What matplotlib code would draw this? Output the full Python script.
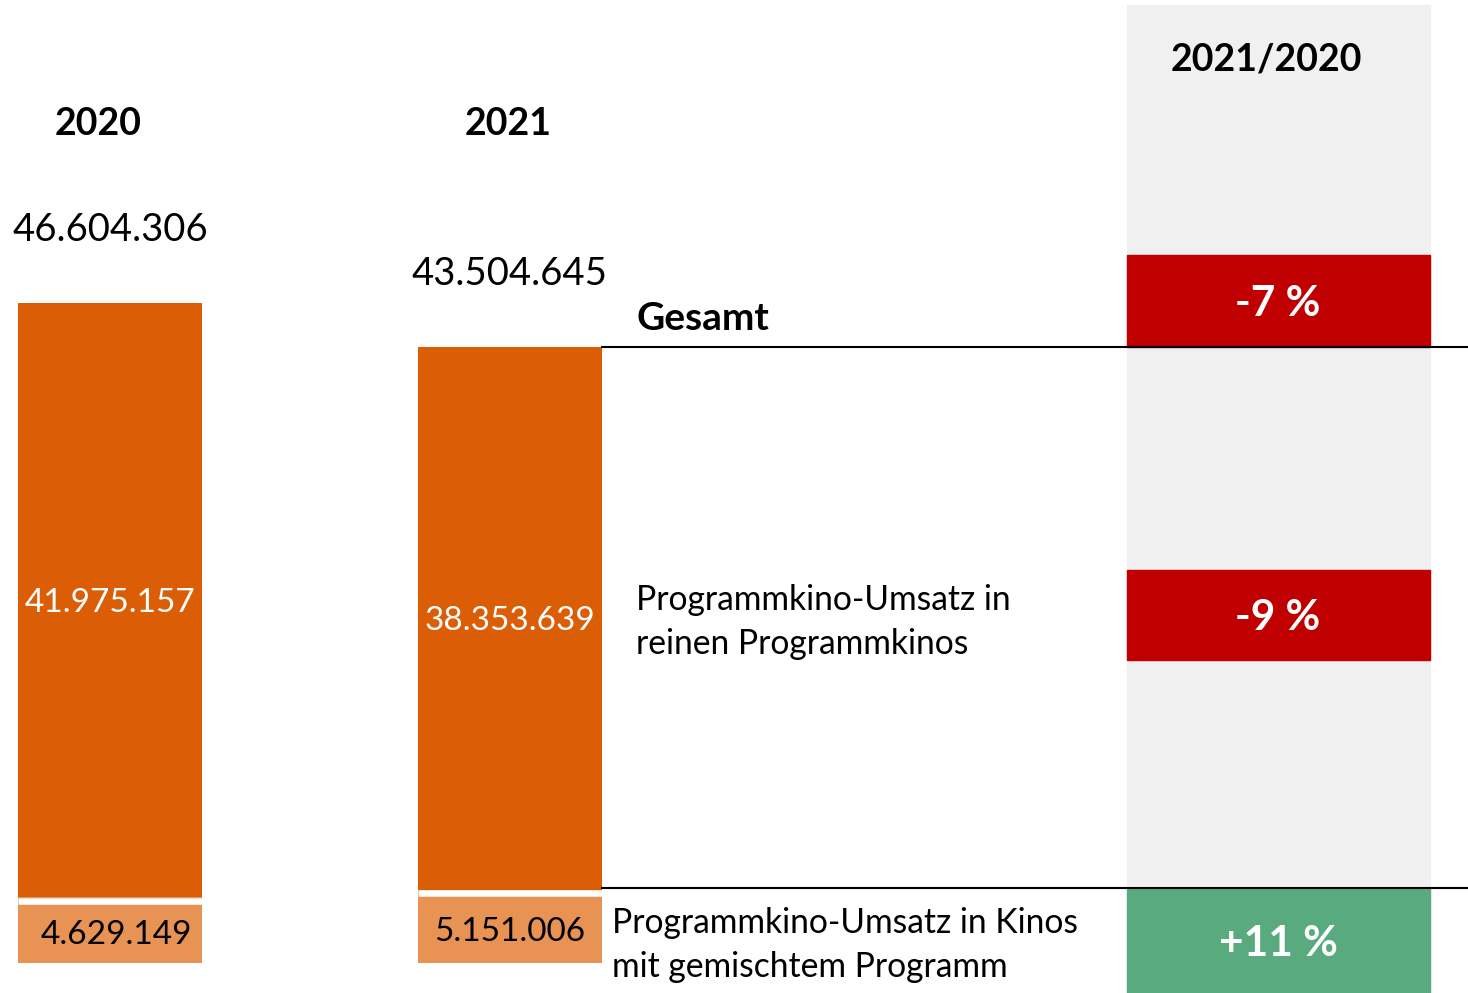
import matplotlib.pyplot as plt
from matplotlib.patches import Rectangle

# data (EUR)
years = ['2020', '2021']
reine = [41975157, 38353639]      # Programmkino-Umsatz in reinen Programmkinos
gemischt = [4629149, 5151006]     # Programmkino-Umsatz in Kinos mit gemischtem Programm
gesamt = [46604306, 43504645]
changes = ['-7 %', '-9 %', '+11 %']

DARK = '#DB5E06'
LIGHT = '#E89254'
RED = '#C00000'
GREEN = '#5AAA7F'
GRAY = '#F0F0F0'

W, H = 1468, 993
plt.rcParams['font.family'] = ['Lato', 'DejaVu Sans']

fig = plt.figure(figsize=(W / 100, H / 100), dpi=100)
ax = fig.add_axes([0, 0, 1, 1])
ax.set_xlim(0, W)
scale = 660 / gesamt[0]          # px per euro
ax.set_ylim(-30 / scale, 963 / scale)
ax.axis('off')


def py(p):
    # pixel row (from top) -> data y
    return (963 - p) / scale


def fmt(v):
    return f'{v:,}'.replace(',', '.')


xpos = [110, 510]
bw = 184
head_x = [98, 508]
low_dx = [6, 0]
tot_y = [230, 274]

# gray comparison panel
ax.add_patch(Rectangle((1127, py(993)), 303, py(5) - py(993), color=GRAY, zorder=0))

ax.bar(xpos, gemischt, width=bw, color=LIGHT, zorder=2)
ax.bar(xpos, reine, width=bw, bottom=gemischt, color=DARK, zorder=2)
# white gap between segments
gap = 6.5 / scale
for x, g in zip(xpos, gemischt):
    ax.plot([x - bw / 2, x + bw / 2], [g - gap / 2, g - gap / 2],
            color='white', lw=4.7, solid_capstyle='butt', zorder=3)

for x, hx, dx, ty, y, r, g, t in zip(xpos, head_x, low_dx, tot_y, years, reine, gemischt, gesamt):
    ax.text(hx, py(124), y, ha='center', va='center', fontsize=27, fontweight='bold')
    ax.text(x, g + r / 2 - 3 / scale, fmt(r), ha='center', va='center', fontsize=24,
            color='white', zorder=4)
    ax.text(x + dx, (g - gap) / 2 - 2 / scale, fmt(g), ha='center', va='center', fontsize=24, zorder=4)
    ax.text(x, py(ty), fmt(t), ha='center', va='center', fontsize=27.5)

# separator lines
ax.plot([602, W], [gesamt[1], gesamt[1]], color='black', lw=1.5, zorder=3)
ax.plot([602, W], [gemischt[1] + 2 / scale] * 2, color='black', lw=1.5, zorder=3)

ax.text(636, py(319), 'Gesamt', ha='left', va='center', fontsize=28, fontweight='bold')
ax.text(636, py(622), 'Programmkino-Umsatz in\nreinen Programmkinos', ha='left', va='center',
        fontsize=24.2, linespacing=1.45)
ax.text(612, py(945), 'Programmkino-Umsatz in Kinos\nmit gemischtem Programm', ha='left', va='center',
        fontsize=24.2, linespacing=1.45)

ax.text(1266, py(60), '2021/2020', ha='center', va='center', fontsize=27, fontweight='bold')

boxes = [(255, 347, RED), (570, 660, RED), (888, 993, GREEN)]
for (top, bot, c), lab in zip(boxes, changes):
    ax.add_patch(Rectangle((1127, py(bot)), 303, py(top) - py(bot), color=c, zorder=2))
    ax.text(1278, (py(top) + py(bot)) / 2 - 3 / scale, lab, ha='center', va='center',
            fontsize=30.5, fontweight='bold', color='white', zorder=4)

fig.savefig('out.png', dpi=100)
